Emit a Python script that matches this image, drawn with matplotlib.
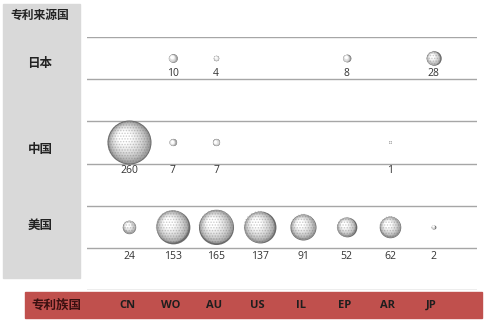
import numpy as np
import matplotlib
matplotlib.use("Agg")
import matplotlib.pyplot as plt
from matplotlib.patches import Rectangle
from matplotlib.transforms import offset_copy, blended_transform_factory

plt.rcParams['font.family'] = ['Open Sans', 'Noto Sans CJK SC', 'DejaVu Sans']
plt.rcParams['hatch.linewidth'] = 0.7

# 专利族国 (columns) and 专利来源国 (rows)
family_countries = ['CN', 'WO', 'AU', 'US', 'IL', 'EP', 'AR', 'JP']
source_countries = ['日本', '中国', '美国']

# patent counts per source country, None = no bubble
japan = [None, 10, 4, None, None, 8, None, 28]
china = [260, 7, 7, None, None, None, 1, None]
usa = [24, 153, 165, 137, 91, 52, 62, 2]
counts = [japan, china, usa]

DPI = 100
fig = plt.figure(figsize=(4.9, 3.25), dpi=DPI)
W, H = 490, 325

# grey label panel on the left, red axis band at the bottom
fig.patches.append(Rectangle((3 / W, 1 - 278 / H), 77 / W, 274 / H,
                             transform=fig.transFigure, color='#d9d9d9', zorder=-2))
fig.patches.append(Rectangle((25 / W, 1 - 318 / H), 457 / W, 26 / H,
                             transform=fig.transFigure, color='#c0504d', zorder=-2))

ax = fig.add_axes([87 / W, 1 - 290 / H, 390 / W, 253 / H])
ax.set_xlim(-0.97, 8.0)
ax.set_ylim(6, 0)
ax.set_facecolor('none')
for s in ax.spines.values():
    s.set_visible(False)
ax.set_xticks([])
ax.set_yticks(range(7))
ax.tick_params(left=False, labelleft=False)
ax.grid(axis='y', color='#a6a6a6', linewidth=1.0)
ax.set_axisbelow(True)

row_y = [0.5, 2.5, 4.5]
label_dy = [0.36, 0.67, 0.71]
max_d_px = 44.0  # diameter of the largest bubble
max_val = 260.0


def shaded_bubble(x, y, v):
    d_pt = max_d_px * np.sqrt(v / max_val) * 72 / DPI
    n = 24
    for k in range(n):
        t = k / n
        dd = d_pt * (1 - t)
        shift = 0.18 * d_pt * t
        tr = offset_copy(ax.transData, fig=fig, x=-shift, y=shift, units='points')
        g = 0.42 + 0.58 * min(1.0, (t / 0.7) ** 0.45)
        ax.scatter([x], [y], s=dd ** 2, color=(g, g, g), linewidths=0,
                   transform=tr, zorder=3 + k * 0.01)
    if d_pt > 8:
        ax.scatter([x], [y], s=d_pt ** 2, facecolor='none',
                   edgecolor=(0.4, 0.4, 0.4, 0.3),
                   hatch='......', linewidths=0, zorder=4)


for r, row in enumerate(counts):
    for c, v in enumerate(row):
        if v is None:
            continue
        shaded_bubble(c, row_y[r], v)
        ax.text(c, row_y[r] + label_dy[r], str(v), ha='center', va='center',
                fontsize=7.5, color='#333333')

# row names in the grey panel
fig.text(40 / W, 1 - 15 / H, '专利来源国', ha='center', va='center',
         fontsize=8.5, fontweight='bold', color='#222222')
row_label_px = [63, 150, 225]
for name, py in zip(source_countries, row_label_px):
    fig.text(40 / W, 1 - py / H, name, ha='center', va='center',
             fontsize=9, fontweight='bold', color='#222222')

# column names in the red band
band = blended_transform_factory(ax.transData, fig.transFigure)
band_y = 1 - 305 / H
fig.text(56 / W, band_y, '专利族国', ha='center', va='center',
         fontsize=9, fontweight='bold', color='#3a1010')
for c, code in enumerate(family_countries):
    ax.text(c - 0.05, band_y, code, ha='center', va='center', transform=band,
            fontsize=8, fontweight='bold', color='#1e1e1e', clip_on=False,
            zorder=10)

fig.savefig('out.png', dpi=DPI)
